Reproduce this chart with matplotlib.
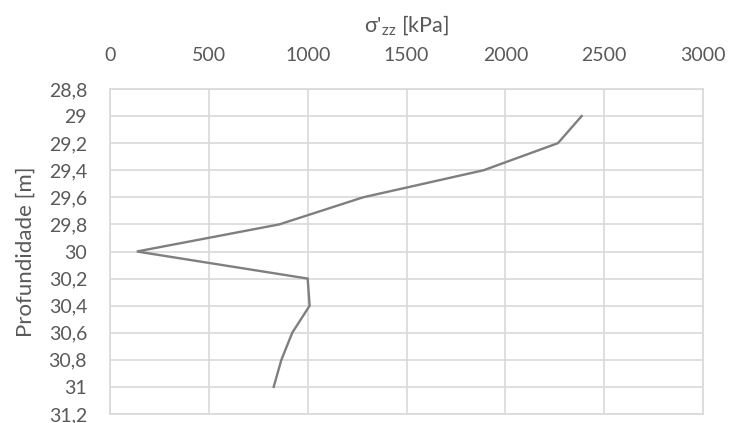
import matplotlib
matplotlib.use("Agg")
import matplotlib.pyplot as plt
from matplotlib.ticker import FuncFormatter, MultipleLocator

# effective vertical stress vs depth
depth = [29.0, 29.2, 29.4, 29.6, 29.8, 30.0, 30.2, 30.4, 30.6, 30.8, 31.0]
stress = [2386, 2266, 1890, 1280, 856, 136, 1000, 1010, 922, 867, 828]

plt.rcParams['font.family'] = ['Lato', 'DejaVu Sans']
plt.rcParams['mathtext.default'] = 'regular'

text_col = '#595959'
grid_col = '#d9d9d9'

fig = plt.figure(figsize=(7.29, 4.23), dpi=100)
ax = fig.add_axes([110 / 729, 9 / 423, 593 / 729, 325 / 423])

ax.plot(stress, depth, color='#7f7f7f', linewidth=1.7, solid_joinstyle='miter')

ax.set_xlim(0, 3000)
ax.set_ylim(31.2, 28.8)
ax.xaxis.set_major_locator(MultipleLocator(500))
ax.yaxis.set_major_locator(MultipleLocator(0.2))
ax.yaxis.set_major_formatter(FuncFormatter(lambda v, p: f"{v:.1f}".rstrip('0').rstrip('.').replace('.', ',')))
ax.xaxis.tick_top()
ax.xaxis.set_label_position('top')
ax.tick_params(axis='both', length=0, labelsize=14, colors=text_col)
ax.tick_params(axis='x', pad=18)
ax.tick_params(axis='y', pad=16.5)
ax.grid(True, color=grid_col, linewidth=1.2)
ax.set_axisbelow(True)
for s in ax.spines.values():
    s.set_color(grid_col)
    s.set_linewidth(1.2)

ax.set_xlabel("σ'$_{zz}$ [kPa]", fontsize=15.5, color=text_col, labelpad=11)
ax.set_ylabel("Profundidade [m]", fontsize=16, color=text_col, labelpad=9)

fig.savefig('out.png', dpi=100)
